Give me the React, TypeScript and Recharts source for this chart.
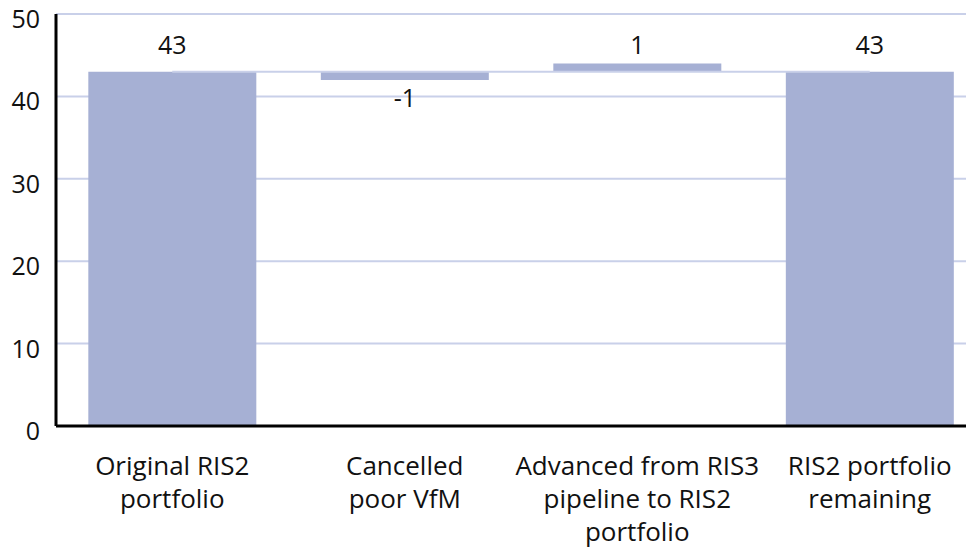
import { ComposedChart, Bar, Line, XAxis, YAxis, CartesianGrid, LabelList } from 'recharts'

const categories = [
  'Original RIS2\nportfolio',
  'Cancelled\npoor VfM',
  'Advanced from RIS3\npipeline to RIS2\nportfolio',
  'RIS2 portfolio\nremaining'
]
// invisible base of each floating bar
const baseValues = [0, 42, 43, 0]
// visible height of each bar
const barValues = [43, 1, 1, 43]
// printed value labels
const labelValues = [43, -1, 1, 43]
// connector running across the bar tops
const connectorValues = [43, 43, 43, 43]
const yTicks = [0, 10, 20, 30, 40, 50]

const data = categories.map((name, i) => ({
  name,
  base: baseValues[i],
  value: barValues[i],
  label: labelValues[i],
  connector: connectorValues[i]
}))

const FONT = "'Open Sans', 'Noto Sans', sans-serif"
const BAR = '#a6b0d4'
const GRID = '#c9d0e9'

const CategoryTick = ({ x, y, payload }: any) => {
  const lines = String(payload.value).split('\n')
  return (
    <text x={x} y={y + 41} textAnchor='middle' fontFamily={FONT} fontSize={26} fill='#111'>
      {lines.map((line, i) => (
        <tspan key={i} x={x} dy={i === 0 ? 0 : 33}>{line}</tspan>
      ))}
    </text>
  )
}

const ValueTick = ({ x, y, payload }: any) => (
  <text x={x - 8} y={y + 14} textAnchor='end' fontFamily={FONT} fontSize={25} fill='#111'>
    {payload.value}
  </text>
)

const ValueLabel = ({ x, y, width, height, value }: any) => {
  const cx = x + width / 2
  const ty = value < 0 ? y + height + 27 : y - (height > 30 ? 18 : 9)
  return (
    <text x={cx} y={ty} textAnchor='middle' fontFamily={FONT} fontSize={25} fill='#111'>
      {value}
    </text>
  )
}

export default function App() {
  return (
    <div style={{ width: 966, height: 552, marginTop: -8, overflow: 'hidden', fontFamily: FONT }}>
      <ComposedChart width={980} height={552} data={data} margin={{ top: 14, right: 2, bottom: 0, left: 0 }} barCategoryGap='13.9%'>
        <CartesianGrid vertical={false} stroke={GRID} strokeWidth={2} />
        <XAxis
          dataKey='name'
          interval={0}
          height={126}
          tickLine={false}
          axisLine={{ stroke: '#000', strokeWidth: 3 }}
          tick={<CategoryTick />}
        />
        <YAxis
          domain={[0, 50]}
          ticks={yTicks}
          width={48}
          tickLine={false}
          axisLine={{ stroke: '#000', strokeWidth: 3 }}
          tick={<ValueTick />}
        />
        <Bar dataKey='base' stackId='w' fill='transparent' isAnimationActive={false} />
        <Bar dataKey='value' stackId='w' fill={BAR} isAnimationActive={false}>
          <LabelList dataKey='label' content={<ValueLabel />} />
        </Bar>
        <Line type='linear' dataKey='connector' stroke={GRID} strokeWidth={2} dot={false} activeDot={false} isAnimationActive={false} />
      </ComposedChart>
    </div>
  )
}
